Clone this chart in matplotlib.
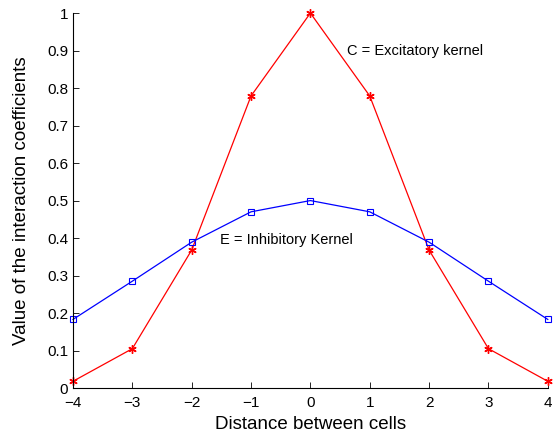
import numpy as np
import matplotlib
matplotlib.use('Agg')
import matplotlib.pyplot as plt

plt.rcParams['font.family'] = ['Liberation Sans', 'DejaVu Sans']

# distance between cells and kernel values
dist = [-4, -3, -2, -1, 0, 1, 2, 3, 4]
excit = [0.018, 0.105, 0.368, 0.779, 1.0, 0.779, 0.368, 0.105, 0.018]
inhib = [0.183, 0.285, 0.389, 0.470, 0.500, 0.470, 0.389, 0.285, 0.183]

fig = plt.figure(figsize=(5.55, 4.36), dpi=100)
ax = fig.add_axes([0.1315, 0.110, 0.8555, 0.860])

ax.plot(dist, excit, color='#ff0000', linewidth=0.9, marker=(6, 2, 0), markersize=6,
        markeredgewidth=1.0, clip_on=False)
ax.plot(dist, inhib, color='#0000ff', linewidth=0.9, marker='s', markersize=4.5,
        markerfacecolor='none', markeredgewidth=0.8, clip_on=False)

ax.text(0.61, 0.899, 'C = Excitatory kernel', fontsize=10.5, va='center', ha='left')
ax.text(-1.53, 0.395, 'E = Inhibitory Kernel', fontsize=10.5, va='center', ha='left')

ax.set_xlim(-4, 4)
ax.set_ylim(0, 1)
ax.set_xticks(dist)
ax.set_xticklabels(['\u22124', '\u22123', '\u22122', '\u22121', '0', '1', '2', '3', '4'])
ax.set_yticks(np.arange(0, 1.01, 0.1))
ax.set_yticklabels(['0', '0.1', '0.2', '0.3', '0.4', '0.5', '0.6', '0.7', '0.8', '0.9', '1'])
ax.tick_params(direction='in', length=4, labelsize=11, width=0.6)
ax.tick_params(axis='x', pad=6)
ax.spines['top'].set_visible(False)
ax.spines['right'].set_visible(False)
ax.spines['left'].set_linewidth(0.8)
ax.spines['bottom'].set_linewidth(0.8)

ax.set_xlabel('Distance between cells', fontsize=13.5, labelpad=4)
ax.set_ylabel('Value of the interaction coefficients', fontsize=13.5, labelpad=12)

plt.savefig('out.png', dpi=100)
